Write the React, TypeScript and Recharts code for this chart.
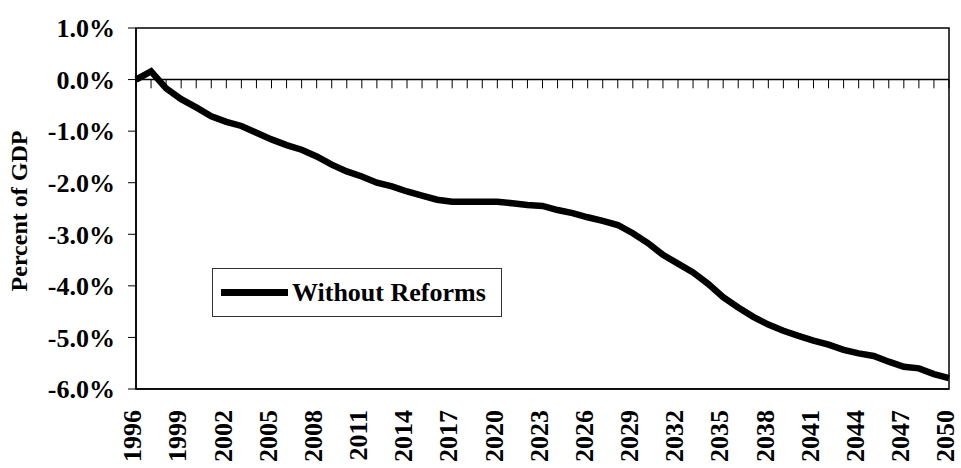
import {
  LineChart, Line, XAxis, YAxis, ReferenceLine, ReferenceArea,
} from "recharts";

document.body.style.margin = "0";

const years = [
  1996, 1997, 1998, 1999, 2000, 2001, 2002, 2003, 2004, 2005, 2006, 2007, 2008, 2009,
  2010, 2011, 2012, 2013, 2014, 2015, 2016, 2017, 2018, 2019, 2020, 2021, 2022, 2023,
  2024, 2025, 2026, 2027, 2028, 2029, 2030, 2031, 2032, 2033, 2034, 2035, 2036, 2037,
  2038, 2039, 2040, 2041, 2042, 2043, 2044, 2045, 2046, 2047, 2048, 2049, 2050,
];

const withoutReforms = [
  0.0, 0.16, -0.17, -0.38, -0.54, -0.71, -0.82, -0.9, -1.03, -1.16, -1.27, -1.36, -1.49, -1.65,
  -1.78, -1.88, -2.0, -2.07, -2.17, -2.25, -2.33, -2.37, -2.37, -2.37, -2.37, -2.4, -2.43, -2.45,
  -2.53, -2.59, -2.67, -2.74, -2.82, -2.98, -3.17, -3.4, -3.57, -3.74, -3.96, -4.22, -4.42, -4.6,
  -4.75, -4.87, -4.97, -5.06, -5.14, -5.24, -5.31, -5.36, -5.47, -5.57, -5.6, -5.71, -5.79,
];

const xTicks = [1996, 1999, 2002, 2005, 2008, 2011, 2014, 2017, 2020, 2023, 2026, 2029, 2032, 2035, 2038, 2041, 2044, 2047, 2050];
const yTicks = [-6, -5, -4, -3, -2, -1, 0, 1];

const seriesName = "Without Reforms";
const yTitle = "Percent of GDP";

const data = years.map((year, i) => ({ year, value: withoutReforms[i] }));

const FONT = "'Liberation Serif', 'Times New Roman', serif";

const XTick = ({ x, y, payload }: any) => (
  <text
    x={x}
    y={y}
    transform={`rotate(-90, ${x}, ${y})`}
    textAnchor="end"
    dy="0.2em"
    fontFamily={FONT}
    fontWeight="bold"
    fontSize={26}
    fill="#000"
  >
    {payload.value}
  </text>
);

// legend drawn as an overlay so it doesn't shrink the plot area
const LegendBox = () => (
  <div
    style={{
      position: "absolute",
      left: 212,
      top: 268,
      width: 290,
      height: 49,
      border: "1px solid #333",
      display: "flex",
      alignItems: "center",
      fontFamily: FONT,
      fontWeight: "bold",
      fontSize: 26,
      color: "#000",
      boxSizing: "border-box",
      background: "#fff",
    }}
  >
    <div style={{ width: 67, height: 7, background: "#000", marginLeft: 8, marginRight: 4 }} />
    <span>{seriesName}</span>
  </div>
);

const App = () => (
  <div style={{ position: "relative", width: 961, height: 468 }}>
    <LineChart width={961} height={468} data={data} margin={{ top: 28, right: 12, left: 0, bottom: 0 }}>
      <XAxis
        dataKey="year"
        type="number"
        domain={[1996, 2050]}
        ticks={xTicks}
        interval={0}
        tickLine={false}
        tickSize={0}
        tickMargin={21}
        height={79}
        axisLine={{ stroke: "#000", strokeWidth: 1.5 }}
        tick={<XTick />}
      />
      <YAxis
        type="number"
        domain={[-6, 1]}
        ticks={yTicks}
        interval={0}
        width={136}
        tickSize={8}
        tickMargin={13}
        axisLine={{ stroke: "#000", strokeWidth: 1.5 }}
        tickLine={{ stroke: "#000" }}
        tick={{ fontFamily: FONT, fontWeight: "bold", fontSize: 26, fill: "#000" }}
        tickFormatter={(v: number) => `${v.toFixed(1)}%`}
        label={() => (
          <text
            x={19}
            y={211}
            transform="rotate(-90, 19, 211)"
            textAnchor="middle"
            dominantBaseline="central"
            fontFamily={FONT}
            fontWeight="bold"
            fontSize={24}
            fill="#000"
          >
            {yTitle}
          </text>
        )}
      />
      <ReferenceArea x1={1996} x2={2050} y1={-6} y2={1} fill="none" stroke="#000" strokeWidth={1.5} />
      <ReferenceLine y={0} stroke="#000" strokeWidth={1.5} />
      {years.map((yr) => (
        <ReferenceLine
          key={yr}
          segment={[{ x: yr, y: 0 }, { x: yr, y: -0.17 }]}
          stroke="#000"
          strokeWidth={1}
        />
      ))}
      <Line
        type="linear"
        dataKey="value"
        name={seriesName}
        stroke="#000"
        strokeWidth={6.5}
        dot={false}
        isAnimationActive={false}
      />
    </LineChart>
    <LegendBox />
  </div>
);

export default App;
